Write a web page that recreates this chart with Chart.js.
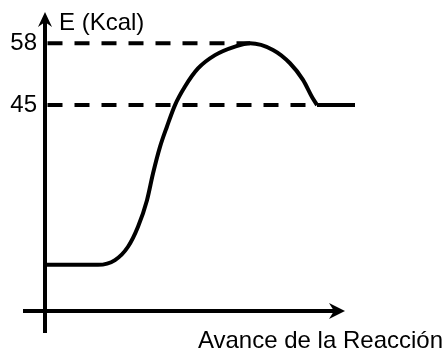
<!DOCTYPE html>
<html>
<head>
<meta charset="utf-8">
<script src="https://cdn.jsdelivr.net/npm/chart.js@4"></script>
<style>
  html, body { margin: 0; padding: 0; background: #fff; }
  #wrap { width: 446px; height: 354px; }
</style>
</head>
<body>
<div id="wrap"><canvas id="canvas"></canvas></div>
<script>
// Tick labels on the energy axis
const levels = [58, 45];
// Reaction progress (arbitrary units) and energy in Kcal along the curve
const progress = [0, 5.3, 7.0, 8.3, 9.3, 10.2, 10.8, 11.5, 12.2, 13.0, 14.0, 15.3, 17.0, 19.0, 20.5, 22.8, 24.5, 25.8, 26.7, 27.2];
const energy   = [11.4, 11.4, 12.4, 15.2, 19.4, 25.0, 30.6, 36.2, 40.5, 45.0, 48.9, 52.7, 55.5, 57.3, 58, 56.6, 53.8, 50.3, 46.7, 45];
// Products plateau
const productsX = [27.2, 31.0];
const productsE = [45, 45];
// Where the dashed guide lines stop
const peakX = 20.5;
const productX = 27.2;

const font = "'Liberation Sans', Arial, sans-serif";

const curve = progress.map((x, i) => ({ x: x, y: energy[i] }));
const plateau = productsX.map((x, i) => ({ x: x, y: productsE[i] }));

// arrows for the axes
const axesPlugin = {
  id: 'axes',
  afterDraw(chart) {
    const ctx = chart.ctx;
    const area = chart.chartArea;
    const x0 = area.left;
    const yAxisY = area.bottom - 8;
    ctx.save();
    ctx.strokeStyle = '#000';
    ctx.fillStyle = '#000';
    ctx.lineWidth = 4;
    ctx.lineCap = 'butt';

    // vertical axis
    ctx.beginPath();
    ctx.moveTo(x0, 333);
    ctx.lineTo(x0, 22);
    ctx.stroke();
    ctx.beginPath();
    ctx.moveTo(x0, 12);
    ctx.lineTo(x0 + 7, 27);
    ctx.lineTo(x0, 22);
    ctx.lineTo(x0 - 7, 27);
    ctx.closePath();
    ctx.fill();

    // horizontal axis
    ctx.beginPath();
    ctx.moveTo(23, yAxisY);
    ctx.lineTo(334, yAxisY);
    ctx.stroke();
    ctx.beginPath();
    ctx.moveTo(345, yAxisY);
    ctx.lineTo(329, yAxisY - 8);
    ctx.lineTo(334, yAxisY);
    ctx.lineTo(329, yAxisY + 8);
    ctx.closePath();
    ctx.fill();

    // axis name
    ctx.font = '24px ' + font;
    ctx.textAlign = 'left';
    ctx.textBaseline = 'alphabetic';
    ctx.fillText('E (Kcal)', 59, 30);
    ctx.restore();
  }
};

const ctx = document.getElementById('canvas');
const energyChart = new Chart(ctx, {
  type: 'scatter',
  data: {
    datasets: [
      {
        data: [{ x: 0.25, y: levels[0] }, { x: peakX, y: levels[0] }],
        showLine: true,
        borderColor: '#000',
        borderWidth: 4,
        borderDash: [15, 12],
        pointRadius: 0
      },
      {
        data: [{ x: 0.25, y: levels[1] }, { x: productX, y: levels[1] }],
        showLine: true,
        borderColor: '#000',
        borderWidth: 4,
        borderDash: [15, 12],
        pointRadius: 0
      },
      {
        data: curve,
        showLine: true,
        borderColor: '#000',
        borderWidth: 4,
        cubicInterpolationMode: 'monotone',
        pointRadius: 0
      },
      {
        data: plateau,
        showLine: true,
        borderColor: '#000',
        borderWidth: 4,
        pointRadius: 0
      }
    ]
  },
  options: {
    responsive: true,
    maintainAspectRatio: false,
    animation: false,
    events: [],
    layout: { padding: { top: 10, right: 3, bottom: 0, left: 0 } },
    plugins: {
      legend: { display: false },
      tooltip: { enabled: false }
    },
    scales: {
      x: {
        type: 'linear',
        min: 0,
        max: 39.8,
        grid: { display: false, drawTicks: false },
        border: { display: false },
        ticks: { display: false },
        title: {
          display: true,
          text: 'Avance de la Reacción',
          align: 'end',
          color: '#000',
          font: { family: font, size: 24 },
          padding: { top: 0, bottom: -2 }
        },
        afterFit(scale) {
          scale.height = 35;
          scale.paddingLeft = 0;
          scale.paddingRight = 0;
        }
      },
      y: {
        type: 'linear',
        min: 0,
        max: 65,
        grid: { display: false, drawTicks: false },
        border: { display: false },
        afterBuildTicks(scale) {
          scale.ticks = levels.map(v => ({ value: v }));
        },
        ticks: {
          color: '#000',
          padding: 8,
          font: { family: font, size: 24 }
        },
        afterFit(scale) {
          scale.width = 45;
          scale.paddingTop = 0;
          scale.paddingBottom = 0;
        }
      }
    }
  },
  plugins: [axesPlugin]
});
</script>
</body>
</html>
